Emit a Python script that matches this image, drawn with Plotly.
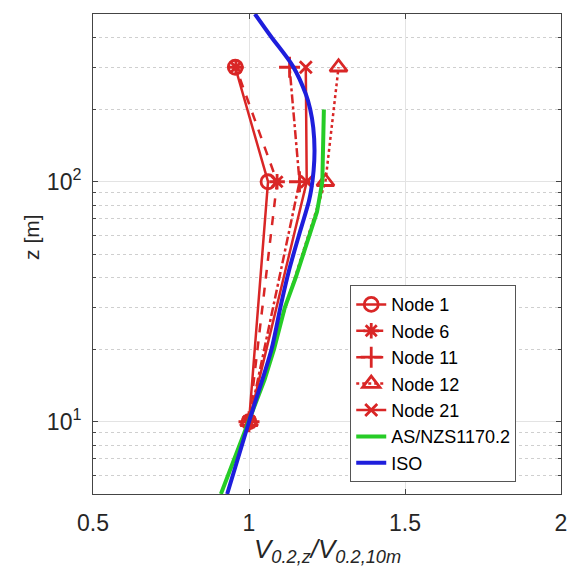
import plotly.graph_objects as go

# ---- data ----
node_z = [10, 100, 300]
node1 = [1.0, 1.061, 0.956]
node6 = [1.0, 1.09, 0.958]
node11 = [1.0, 1.162, 1.13]
node12 = [1.0, 1.245, 1.287]
node21 = [1.0, 1.185, 1.182]

asnzs_z = [5, 10, 15, 20, 30, 40, 50, 75, 100, 150, 200]
asnzs_v = [0.91, 1.0, 1.05, 1.08, 1.115, 1.15, 1.175, 1.218, 1.235, 1.238, 1.24]

iso_z = [5, 10, 20, 31, 42.6, 58.6, 83, 92, 111, 135, 168, 201, 232, 304, 402, 500]
iso_v = [0.93, 1.0, 1.072, 1.103, 1.128, 1.158, 1.192, 1.199, 1.207, 1.21, 1.206, 1.196,
         1.182, 1.14, 1.071, 1.019]

x_ticks = [0.5, 1, 1.5, 2]
x_ticktext = ["0.5", "1", "1.5", "2"]
y_ticks = [10, 100]
y_ticktext = ["10<sup>1</sup>", "10<sup>2</sup>"]
y_minor = [6, 7, 8, 9, 20, 30, 40, 50, 60, 70, 80, 90, 200, 300, 400]

RED = "rgb(217,38,38)"
GREEN = "rgb(38,204,38)"
BLUE = "rgb(30,30,220)"
TXT = "#262626"
FONT = "Liberation Sans, Arial, sans-serif"

fig = go.Figure()

nodes = [
    ("Node 1", node1, "solid", "circle-open", 14),
    ("Node 6", node6, "dash", "asterisk-open", 13),
    ("Node 11", node11, "dashdot", "cross-thin-open", 15),
    ("Node 12", node12, "dot", "triangle-up-open", 15),
    ("Node 21", node21, "solid", "x-thin-open", 12),
]
for name, vals, dash, sym, size in nodes:
    fig.add_trace(go.Scatter(
        x=vals, y=node_z, name=name, mode="lines+markers",
        line=dict(color=RED, width=2.5, dash=dash),
        marker=dict(symbol=sym, size=size, color=RED, line=dict(color=RED, width=2.8)),
    ))

fig.add_trace(go.Scatter(x=asnzs_v, y=asnzs_z, name="AS/NZS1170.2", mode="lines",
                         line=dict(color=GREEN, width=4)))
fig.add_trace(go.Scatter(x=iso_v, y=iso_z, name="ISO", mode="lines",
                         line=dict(color=BLUE, width=4, shape="spline", smoothing=0.8)))

tick_font = dict(family=FONT, size=23, color=TXT)

fig.update_layout(
    width=573, height=579,
    margin=dict(l=93, r=6, t=14, b=85),
    paper_bgcolor="white", plot_bgcolor="white",
    font=dict(family=FONT, color=TXT),
    showlegend=True,
    legend=dict(
        x=0.727, y=0.435, xanchor="center", yanchor="top",
        bgcolor="white", bordercolor="#555555", borderwidth=1,
        font=dict(family=FONT, size=18, color="black"),
        tracegroupgap=0,
    ),
    xaxis=dict(
        range=[0.5, 2], tickvals=x_ticks, ticktext=x_ticktext,
        ticks="inside", ticklen=5, tickcolor="#444444",
        showline=True, linecolor="#444444", linewidth=1, mirror="ticks",
        showgrid=True, gridcolor="#e3e3e3", gridwidth=1,
        zeroline=False, tickfont=tick_font, ticklabelstandoff=8,
        ticklabeloverflow="allow",
    ),
    yaxis=dict(
        type="log", range=[0.69897, 2.69897],
        tickvals=y_ticks, ticktext=y_ticktext,
        ticks="inside", ticklen=5, tickcolor="#444444",
        showline=True, linecolor="#444444", linewidth=1, mirror="ticks",
        showgrid=True, gridcolor="#e3e3e3", gridwidth=1,
        zeroline=False, tickfont=tick_font, ticklabelstandoff=6,
        minor=dict(tickvals=y_minor, ticks="inside", ticklen=3, tickcolor="#444444",
                   showgrid=True, gridcolor="#cfcfcf", griddash="dot", gridwidth=1),
    ),
    annotations=[
        dict(text="<i>V<sub>0.2,z</sub>/V<sub>0.2,10m</sub></i>", xref="paper", yref="paper",
             x=0.5, y=-0.118, xanchor="center", yanchor="middle", showarrow=False,
             font=dict(family=FONT, size=26, color=TXT)),
        dict(text="z [m]", xref="paper", yref="paper", textangle=-90,
             x=-0.133, y=0.535, xanchor="center", yanchor="middle", showarrow=False,
             font=dict(family=FONT, size=21, color=TXT)),
    ],
)

fig.write_html("out.html")
